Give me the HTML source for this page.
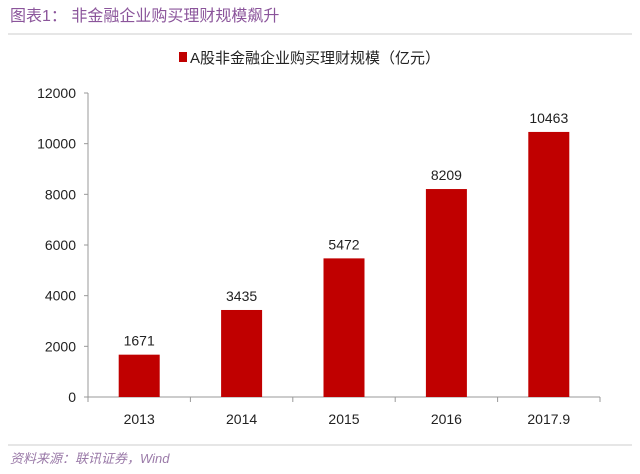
<!DOCTYPE html>
<html><head><meta charset="utf-8"><style>
body{margin:0;width:640px;height:469px;background:#fff;overflow:hidden;font-family:"Liberation Sans","Noto Sans CJK SC",sans-serif}
</style></head><body>
<svg width="640" height="469">
<text x="10" y="21" font-size="16" fill="#8b559b" font-family="Liberation Sans,Noto Sans CJK SC,sans-serif">图表1：  非金融企业购买理财规模飙升</text>
<line x1="8" y1="34" x2="632" y2="34" stroke="#ccc"/>
<rect x="179" y="52" width="8" height="10" fill="#c00000"/>
<text x="190" y="63" font-size="15" fill="#222">A股非金融企业购买理财规模（亿元）</text>
<g id="plot"></g>
<line x1="8" y1="445" x2="632" y2="445" stroke="#ccc"/>
<text x="10" y="463" font-size="13" fill="#9a7aa8" font-style="italic">资料来源：联讯证券，Wind</text>
</svg>
<script>
const categories=["2013","2014","2015","2016","2017.9"];
const values=[1671,3435,5472,8209,10463];
const yTicks=[0,2000,4000,6000,8000,10000,12000];
const x0=88,x1=600,yBase=397,yTop=93,yMax=12000;
const NS="http://www.w3.org/2000/svg";
const g=document.getElementById("plot");
const bw=(x1-x0)/categories.length;
function y(v){return yBase-(v/yMax)*(yBase-yTop);}
function mk(t,a){const e=document.createElementNS(NS,t);for(const k in a)e.setAttribute(k,a[k]);g.appendChild(e);return e;}
let ax=mk("line",{x1:x0,y1:yTop,x2:x0,y2:yBase,stroke:"#999"});


let bx=mk("line",{x1:x0,y1:yBase,x2:x1,y2:yBase,stroke:"#999"});


yTicks.forEach(v=>{
 let t=mk("line",{x1:x0-4,y1:y(v),x2:x0,y2:y(v),stroke:"#999"});
 
 
 let l=mk("text",{x:x0-12,y:y(v)+5,"text-anchor":"end","font-size":"14",fill:"#222"});
 l.textContent=v;
 
 
});
for(let i=0;i<=categories.length;i++){
 let t=mk("line",{x1:x0+i*bw,y1:yBase,x2:x0+i*bw,y2:yBase+5,stroke:"#999"});
 
 
}
categories.forEach((c,i)=>{
 const cx=x0+bw*(i+0.5),v=values[i];
 let r=mk("rect",{x:cx-20.5,y:y(v),width:41,height:yBase-y(v),fill:"#c00000"});
 
 
 let vl=mk("text",{x:cx,y:y(v)-9,"text-anchor":"middle","font-size":"14",fill:"#222"});
 vl.textContent=v;
 
 
 let cl=mk("text",{x:cx,y:yBase+27,"text-anchor":"middle","font-size":"14",fill:"#222"});
 cl.textContent=c;
 
 
});
</script>
</body></html>
